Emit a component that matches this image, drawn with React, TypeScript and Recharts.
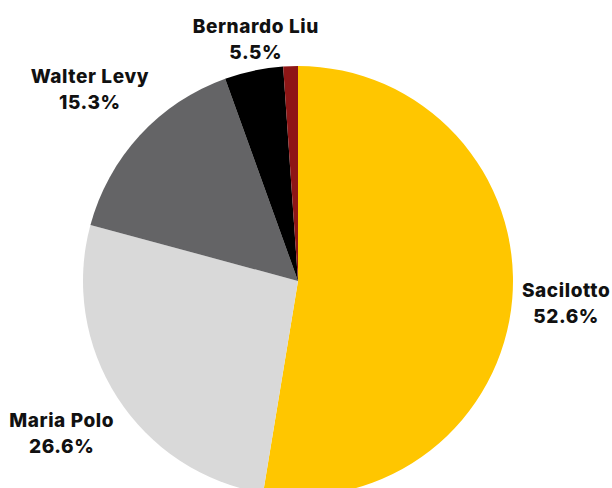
import { PieChart, Pie, Cell } from "recharts";

const names = ["Sacilotto", "Maria Polo", "Walter Levy", "Bernardo Liu", "Outros"];
const values = [52.6, 26.6, 15.3, 4.4, 1.1];
const pctLabels = ["52.6%", "26.6%", "15.3%", "5.5%", ""];
const colors = ["#FFC600", "#D9D9D9", "#646466", "#000000", "#8E1616"];

const data = names.map((name, i) => ({ name, value: values[i] }));

// distance of each label centre beyond the rim, plus a small angle nudge
const labelOffset = [54, 66, 68, 31, 0];
const labelAngleNudge = [0, 0, 0, -2, 0];

const RADIAN = Math.PI / 180;

const renderLabel = (props: any) => {
  const { cx, cy, midAngle, outerRadius, index } = props;
  if (!pctLabels[index]) return null;
  const r = outerRadius + labelOffset[index];
  const a = (midAngle + labelAngleNudge[index]) * RADIAN;
  const x = cx + r * Math.cos(-a);
  const y = cy + r * Math.sin(-a);
  return (
    <text
      x={x}
      y={y}
      textAnchor="middle"
      fill="#111111"
      fontFamily="Inter, 'DejaVu Sans', sans-serif"
      fontWeight={800}
      fontSize={19}
      letterSpacing={0.6}
    >
      <tspan x={x} dy={-6}>
        {names[index]}
      </tspan>
      <tspan x={x} dy={26}>
        {pctLabels[index]}
      </tspan>
    </text>
  );
};

export default function App() {
  return (
    <div style={{ position: "absolute", left: 0, top: 0, background: "#fff" }}>
      <PieChart width={612} height={488} margin={{ top: 0, right: 0, bottom: 0, left: 0 }}>
        <Pie
          data={data}
          dataKey="value"
          nameKey="name"
          cx={298}
          cy={281}
          outerRadius={215}
          startAngle={90}
          endAngle={-270}
          stroke="none"
          label={renderLabel}
          labelLine={false}
          isAnimationActive={false}
        >
          {data.map((d, i) => (
            <Cell key={d.name} fill={colors[i]} />
          ))}
        </Pie>
      </PieChart>
    </div>
  );
}
